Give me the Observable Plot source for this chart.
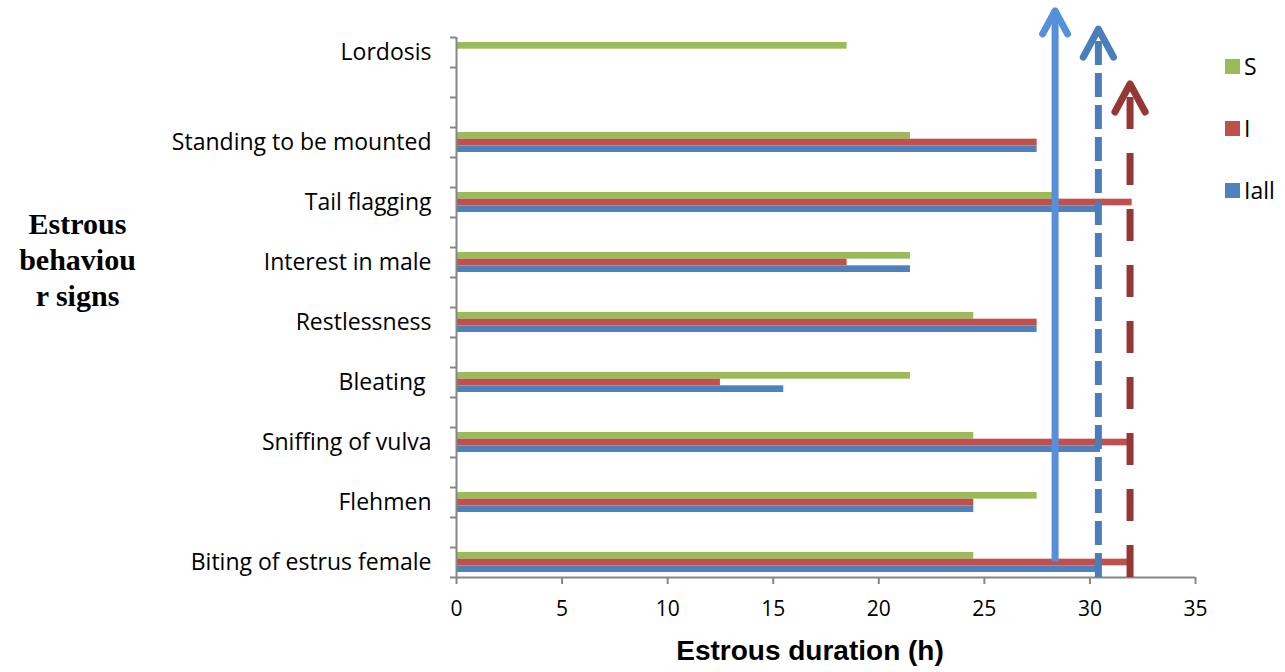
<!DOCTYPE html>
<html>
<head>
<meta charset="utf-8">
<script src="https://cdn.jsdelivr.net/npm/d3@7"></script>
<script src="https://cdn.jsdelivr.net/npm/@observablehq/plot@0.6"></script>
<style>
  body { margin: 0; background: #fff; }
  #wrap { position: relative; width: 1285px; height: 672px; overflow: hidden; }
  #wrap svg { position: absolute; left: 0; top: 0; }
  .ytitle { position: absolute; left: 0; top: 206px; width: 155px; text-align: center;
            font: bold 30px "Liberation Serif", serif; line-height: 36px; color: #000; }
  .xtitle { position: absolute; left: 560px; top: 635px; width: 500px; text-align: center;
            font: bold 28px "Liberation Sans", Arial, sans-serif; color: #000; }
  .legend { position: absolute; left: 1225px; top: 0; font: 23px "Open Sans", sans-serif; color: #000; }
  .legend div { position: absolute; left: 0; display: flex; align-items: center; white-space: nowrap; line-height: 26px; }
  .legend span.sw { display: inline-block; width: 15px; height: 15px; margin-right: 4px; }
</style>
</head>
<body>
<div id="wrap"></div>
<script>
// Category rows from the bottom of the axis to the top; empty rows keep the spacing.
const categoryRows = [
  "Biting of estrus female", "", "Flehmen", "", "Sniffing of vulva", "", "Bleating ", "",
  "Restlessness", "", "Interest in male", "", "Tail flagging", "", "Standing to be mounted",
  "", "", "Lordosis"
];

// Behaviours with their estrous duration (h) for each group.
const behaviours = [
  "Lordosis", "Standing to be mounted", "Tail flagging", "Interest in male", "Restlessness",
  "Bleating ", "Sniffing of vulva", "Flehmen", "Biting of estrus female"
];
const seriesNames = ["S", "I", "Iall"];
const valuesS    = [18.5, 21.5, 28.5, 21.5, 24.5, 21.5, 24.5, 27.5, 24.5];
const valuesI    = [null, 27.5, 32,   18.5, 27.5, 12.5, 32,   24.5, 32];
const valuesIall = [null, 27.5, 30.5, 21.5, 27.5, 15.5, 30.5, 24.5, 30.5];
const seriesColors = ["#9BBB59", "#C0504D", "#4F81BD"];

// Duration markers drawn as upward arrows.
const markerValues = [28.35, 30.4, 31.9];

// Build the bar table: three thin bars per behaviour, S on top, Iall at the bottom.
const seriesValues = [valuesS, valuesI, valuesIall];
const barThickness = 0.222;
const bars = [];
behaviours.forEach((name, i) => {
  const center = categoryRows.indexOf(name) + 0.5;
  seriesNames.forEach((s, k) => {
    const v = seriesValues[k][i];
    if (v == null) return;
    const top = center + 1.5 * barThickness - k * barThickness;
    bars.push({behaviour: name, series: s, value: v, y1: top - barThickness, y2: top});
  });
});

// Arrow annotations: base and tip heights along the category axis, head size in pixels.
const arrows = [
  {x: markerValues[0], base: 0.52, tip: 18.89, head: 23, stroke: "#5590D8", dash: null},
  {x: markerValues[1], base: 0,    tip: 18.28, head: 28, stroke: "#4A7EBB", dash: "24,8"},
  {x: markerValues[2], base: 0,    tip: 16.45, head: 28, stroke: "#953735", dash: "32,24"}
];

// Open chevron head pointing up, tip at the anchor.
const chevron = {
  draw(context, l) {
    context.moveTo(-l * 0.54, l);
    context.lineTo(0, 0);
    context.lineTo(l * 0.54, l);
  }
};

const axisGrey = "#868686";
const rowCenters = categoryRows.map((d, i) => i + 0.5).filter((d, i) => categoryRows[i] !== "");

const shaftMarks = arrows.map(a =>
  Plot.ruleX([a], {x: "x", y1: "base", y2: "tip", stroke: a.stroke, strokeWidth: 7,
    strokeDasharray: a.dash || undefined, strokeLinecap: "butt"})
);

const chart = Plot.plot({
  width: 1285,
  height: 672,
  marginLeft: 456,
  marginRight: 90,
  marginTop: 37,
  marginBottom: 95,
  x: {domain: [0, 35]},
  y: {domain: [0, categoryRows.length]},
  length: {type: "identity"},
  color: {domain: seriesNames, range: seriesColors},
  style: {fontFamily: "'Open Sans', sans-serif", fontSize: "20px", color: "#000", background: "transparent"},
  marks: [
    Plot.rectX(bars, {x1: 0, x2: "value", y1: "y1", y2: "y2", fill: "series"}),
    Plot.ruleX([0], {stroke: axisGrey, strokeWidth: 2}),
    Plot.ruleY([0], {stroke: axisGrey, strokeWidth: 2}),
    Plot.axisX({ticks: d3.range(0, 36, 5), tickSize: 7, tickPadding: 17, stroke: axisGrey,
      strokeWidth: 2, fontSize: 21, label: null}),
    Plot.axisY({ticks: d3.range(0, categoryRows.length + 1), tickSize: 6, tickFormat: () => "",
      stroke: axisGrey, strokeWidth: 2, label: null}),
    Plot.axisY({ticks: rowCenters, tickSize: 0, tickPadding: 25, fontSize: 23, label: null,
      tickFormat: d => categoryRows[Math.floor(d)]}),
    ...shaftMarks,
    Plot.vector(arrows, {x: "x", y: "tip", length: "head", anchor: "start", shape: chevron,
      stroke: "stroke", strokeWidth: 7, fill: "none", strokeLinecap: "round", strokeLinejoin: "round"})
  ]
});

const wrap = document.getElementById("wrap");
wrap.appendChild(chart);

const yTitle = document.createElement("div");
yTitle.className = "ytitle";
yTitle.innerHTML = "Estrous<br>behaviou<br>r signs";
wrap.appendChild(yTitle);

const xTitle = document.createElement("div");
xTitle.className = "xtitle";
xTitle.textContent = "Estrous duration (h)";
wrap.appendChild(xTitle);

const legend = document.createElement("div");
legend.className = "legend";
const legendTops = [53, 115, 177];
seriesNames.forEach((s, k) => {
  const row = document.createElement("div");
  row.style.top = legendTops[k] + "px";
  row.innerHTML = `<span class="sw" style="background:${seriesColors[k]}"></span>${s}`;
  legend.appendChild(row);
});
wrap.appendChild(legend);
</script>
</body>
</html>
